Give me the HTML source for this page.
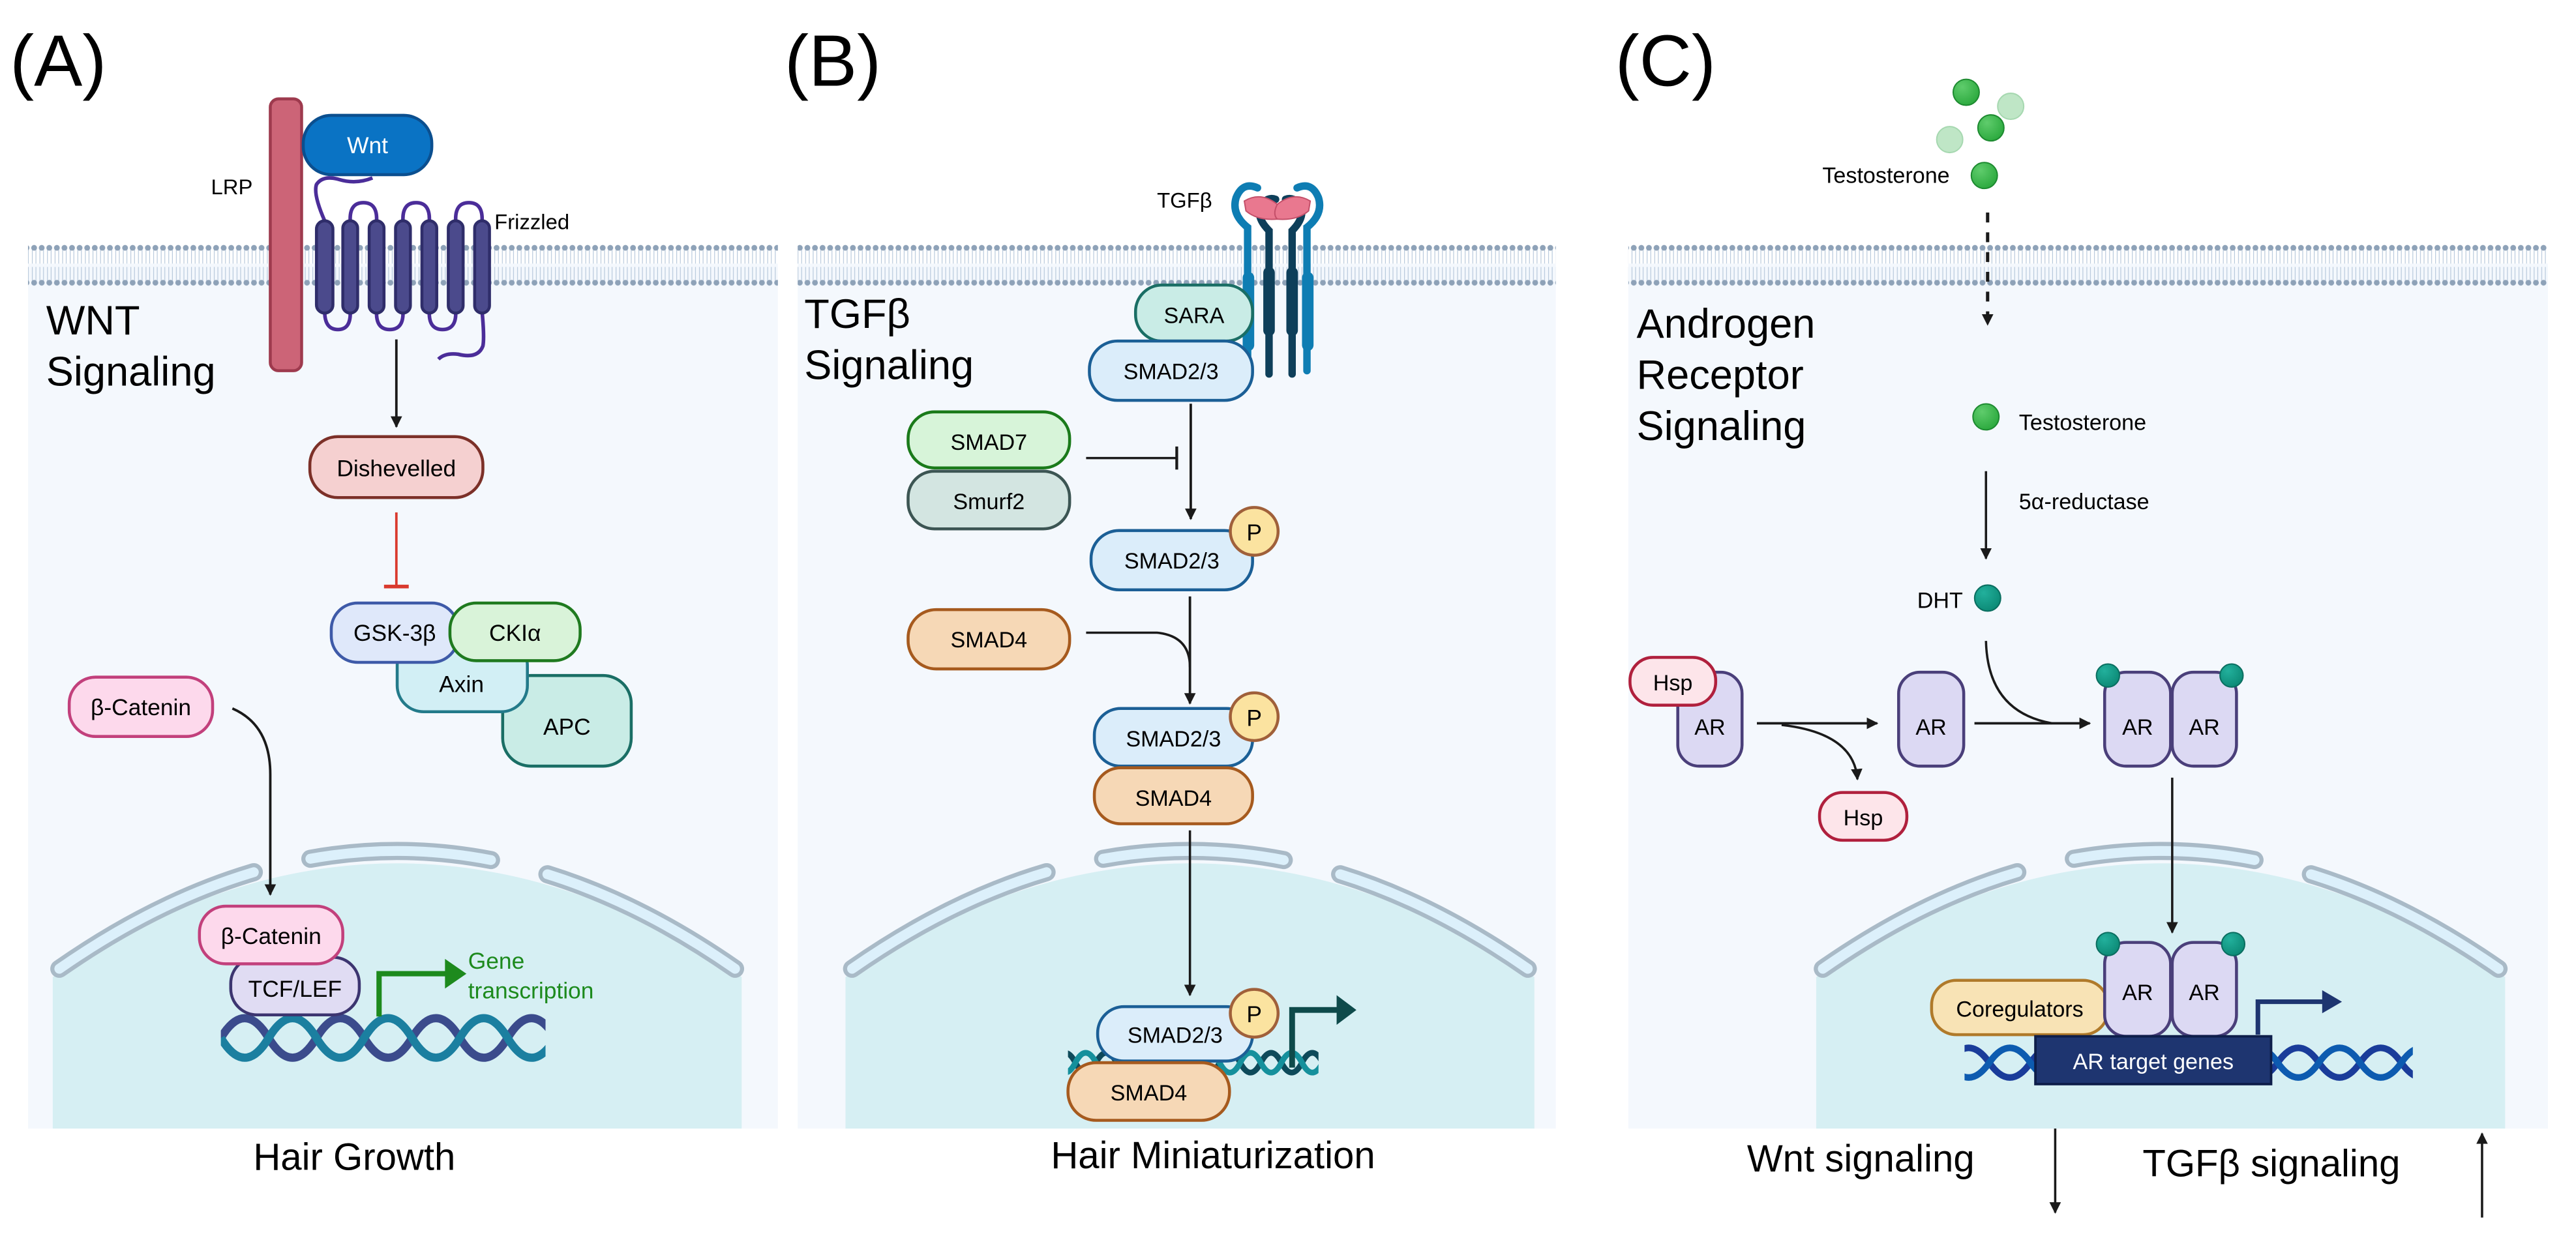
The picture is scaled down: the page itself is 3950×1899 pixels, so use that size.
<!DOCTYPE html>
<html><head><meta charset="utf-8"><style>html,body{margin:0;padding:0;background:#fff}svg{display:block}text{font-family:"Liberation Sans",sans-serif}
rect[rx]{stroke-width:1.8}</style></head><body>
<svg width="3950" height="1899" viewBox="0 0 1563 751.4" xmlns="http://www.w3.org/2000/svg">
<defs>
<pattern id="mem" x="0" y="148" width="4.6" height="26" patternUnits="userSpaceOnUse">
<line x1="1.2" y1="3" x2="1.2" y2="12" stroke="#b4c6da" stroke-width="0.45"/><line x1="3.4" y1="3" x2="3.4" y2="12" stroke="#b4c6da" stroke-width="0.45"/>
<line x1="1.2" y1="14" x2="1.2" y2="23" stroke="#b4c6da" stroke-width="0.45"/><line x1="3.4" y1="14" x2="3.4" y2="23" stroke="#b4c6da" stroke-width="0.45"/>
<circle cx="2.3" cy="2.4" r="1.75" fill="#8ea2b8"/><circle cx="2.3" cy="23.6" r="1.75" fill="#8ea2b8"/>
</pattern>
<marker id="ah" viewBox="0 0 10 10" refX="9" refY="5" markerWidth="7" markerHeight="7" markerUnits="userSpaceOnUse" orient="auto"><path d="M0,0 L10,5 L0,10 Z" fill="#1a1a1a"/></marker>
<radialGradient id="gb" cx="0.35" cy="0.3" r="0.8"><stop offset="0" stop-color="#5fcc6c"/><stop offset="1" stop-color="#27a63a"/></radialGradient>
<radialGradient id="tb" cx="0.35" cy="0.3" r="0.8"><stop offset="0" stop-color="#22b09c"/><stop offset="1" stop-color="#0a8672"/></radialGradient>
</defs>

<rect x="17" y="160" width="455" height="525" fill="#f4f8fd"/>
<rect x="484" y="160" width="460" height="525" fill="#f4f8fd"/>
<rect x="988" y="160" width="558" height="525" fill="#f4f8fd"/>
<rect x="17" y="148" width="455" height="26" fill="url(#mem)"/>
<rect x="484" y="148" width="460" height="26" fill="url(#mem)"/>
<rect x="988" y="148" width="558" height="26" fill="url(#mem)"/>

<path d="M32,685 L32,593 Q241,455 450,593 L450,685 Z" fill="#d6eff3"/>
<path d="M36,588 Q241,445 446,588" fill="none" stroke="#a9bac7" stroke-width="11" stroke-linecap="round" pathLength="100" stroke-dasharray="30 8 25 8 30"/>
<path d="M36,588 Q241,445 446,588" fill="none" stroke="#dcf0fb" stroke-width="6" stroke-linecap="round" pathLength="100" stroke-dasharray="30 8 25 8 30"/>
<path d="M513,685 L513,593 Q722,455 931,593 L931,685 Z" fill="#d6eff3"/>
<path d="M517,588 Q722,445 927,588" fill="none" stroke="#a9bac7" stroke-width="11" stroke-linecap="round" pathLength="100" stroke-dasharray="30 8 25 8 30"/>
<path d="M517,588 Q722,445 927,588" fill="none" stroke="#dcf0fb" stroke-width="6" stroke-linecap="round" pathLength="100" stroke-dasharray="30 8 25 8 30"/>
<path d="M1102,685 L1102,593 Q1311,455 1520,593 L1520,685 Z" fill="#d6eff3"/>
<path d="M1106,588 Q1311,445 1516,588" fill="none" stroke="#a9bac7" stroke-width="11" stroke-linecap="round" pathLength="100" stroke-dasharray="30 8 25 8 30"/>
<path d="M1106,588 Q1311,445 1516,588" fill="none" stroke="#dcf0fb" stroke-width="6" stroke-linecap="round" pathLength="100" stroke-dasharray="30 8 25 8 30"/>

<text x="6" y="52" font-size="44">(A)</text>
<text x="476" y="52" font-size="44">(B)</text>
<text x="980" y="52" font-size="44">(C)</text>

<!-- Panel A -->
<text x="28" y="203" font-size="25">WNT</text>
<text x="28" y="234" font-size="25">Signaling</text>
<rect x="164" y="60" width="19" height="165" rx="5" fill="#cc6477" stroke="#9e3a4e"/>
<text x="128" y="118" font-size="13">LRP</text>
<rect x="184" y="70" width="78" height="36" rx="17" fill="#0a73c4" stroke="#0b4f8f"/>
<text x="223" y="93" font-size="14" fill="#fff" text-anchor="middle">Wnt</text>
<g fill="none" stroke="#4b2d99" stroke-width="2.2">
<path d="M197,134 Q190,118 192,112 Q196,106 206,109 Q216,112 226,108"/>
<path d="M212.5,134 Q212,123 220.5,123 Q229,123 228.5,134"/>
<path d="M244.5,134 Q244,123 252.5,123 Q261,123 260.5,134"/>
<path d="M276.5,134 Q276,123 284.5,123 Q293,123 292.5,134"/>
<path d="M197,189 Q197,200 205,200 Q213,200 212.5,189"/>
<path d="M228.5,189 Q228,200 236.5,200 Q245,200 244.5,189"/>
<path d="M260.5,189 Q260,200 268.5,200 Q277,200 276.5,189"/>
<path d="M292.5,189 Q294,205 293,210 Q290,218 278,215 Q270,214 266,218"/>
</g>
<g fill="#4b4a8c" stroke="#2f2d6a">
<rect x="192" y="134" width="10" height="56" rx="5"/><rect x="208" y="134" width="9" height="56" rx="4.5"/>
<rect x="224" y="134" width="9" height="56" rx="4.5"/><rect x="240" y="134" width="9" height="56" rx="4.5"/>
<rect x="256" y="134" width="9" height="56" rx="4.5"/><rect x="272" y="134" width="9" height="56" rx="4.5"/>
<rect x="288" y="134" width="9" height="56" rx="4.5"/>
</g>
<text x="300" y="139" font-size="13">Frizzled</text>
<line x1="240.5" y1="206" x2="240.5" y2="259" stroke="#1a1a1a" stroke-width="1.5" marker-end="url(#ah)"/>
<rect x="188" y="265" width="105" height="37" rx="17" fill="#f5d0d0" stroke="#7c3028"/>
<text x="240.5" y="289" font-size="14" text-anchor="middle">Dishevelled</text>
<line x1="240.5" y1="311" x2="240.5" y2="356" stroke="#d93a2e" stroke-width="1.5"/>
<line x1="233" y1="356" x2="248" y2="356" stroke="#d93a2e" stroke-width="2.2"/>
<rect x="305" y="410" width="78" height="55" rx="17" fill="#c9ece6" stroke="#1a6e65"/>
<text x="344" y="446" font-size="14" text-anchor="middle">APC</text>
<rect x="241" y="388" width="79" height="44" rx="16" fill="#d2eff5" stroke="#237a8a"/>
<text x="280" y="420" font-size="14" text-anchor="middle">Axin</text>
<rect x="201" y="366" width="77" height="36" rx="16" fill="#dfe8fa" stroke="#3e5aa8"/>
<text x="239.5" y="389" font-size="14" text-anchor="middle">GSK-3β</text>
<rect x="273" y="366" width="79" height="35" rx="16" fill="#d9f3d9" stroke="#1f7a1f"/>
<text x="312.5" y="389" font-size="14" text-anchor="middle">CKIα</text>
<rect x="42" y="411" width="87" height="36" rx="16" fill="#fdd9ec" stroke="#c2407c"/>
<text x="85.5" y="434" font-size="14" text-anchor="middle">β-Catenin</text>
<path d="M141,430 Q164,440 164,470 L164,543" fill="none" stroke="#1a1a1a" stroke-width="1.5" marker-end="url(#ah)"/>
<clipPath id="cA"><rect x="134" y="600" width="197" height="60"/></clipPath>
<g fill="none" stroke-width="5" clip-path="url(#cA)">
<path d="M134,630 Q148.5,606 163,630 T192,630 T221,630 T250,630 T279,630 T308,630 T337,630" stroke="#3b4b8c"/>
<path d="M134,630 Q148.5,654 163,630 T192,630 T221,630 T250,630 T279,630 T308,630 T337,630" stroke="#1b7fa0"/>
</g>
<rect x="140" y="581" width="78" height="35" rx="16" fill="#e0dcf3" stroke="#3c3570"/>
<text x="179" y="605" font-size="14" text-anchor="middle">TCF/LEF</text>
<rect x="121" y="550" width="87" height="35" rx="16" fill="#fdd9ec" stroke="#c2407c"/>
<text x="164.5" y="573" font-size="14" text-anchor="middle">β-Catenin</text>
<path d="M230,617 L230,591 L272,591" fill="none" stroke="#1d8a1d" stroke-width="3.2"/>
<path d="M270,582 L283,591 L270,600 Z" fill="#1d8a1d"/>
<text x="284" y="588" font-size="14" fill="#1d8a1d">Gene</text>
<text x="284" y="606" font-size="14" fill="#1d8a1d">transcription</text>
<text x="215" y="710" font-size="23" text-anchor="middle">Hair Growth</text>

<!-- Panel B -->
<text x="488" y="199" font-size="25">TGFβ</text>
<text x="488" y="230" font-size="25">Signaling</text>
<text x="702" y="126" font-size="13">TGFβ</text>
<g fill="none" stroke-linecap="round">
<path d="M757,225 L757,138 Q747,130 750,120 Q754,110 763,114" stroke="#0e7db3" stroke-width="4.5"/>
<path d="M793,225 L793,138 Q803,130 800,120 Q796,110 787,114" stroke="#0e7db3" stroke-width="4.5"/>
<path d="M770,227 L770,140 Q762,132 765,125 Q769,119 774,121" stroke="#0e3f5a" stroke-width="4.5"/>
<path d="M784,227 L784,140 Q792,132 789,125 Q785,119 780,121" stroke="#0e3f5a" stroke-width="4.5"/>
</g>
<rect x="754" y="165" width="7" height="48" rx="3.5" fill="#0e7db3" stroke="none"/>
<rect x="790" y="165" width="7" height="48" rx="3.5" fill="#0e7db3" stroke="none"/>
<rect x="766.5" y="162" width="7" height="42" rx="3.5" fill="#0e3f5a" stroke="none"/>
<rect x="780.5" y="162" width="7" height="42" rx="3.5" fill="#0e3f5a" stroke="none"/>
<path d="M755,122 Q765,116 775,124 Q778,130 775,133 Q763,134 756,128 Z" fill="#e9788f" stroke="#c4506a" stroke-width="0.8"/>
<path d="M795,122 Q785,116 775,124 Q772,130 775,133 Q787,134 794,128 Z" fill="#e9788f" stroke="#c4506a" stroke-width="0.8"/>
<rect x="689" y="173" width="71" height="34" rx="16" fill="#c9ece6" stroke="#1a6e65"/>
<text x="724.5" y="196" font-size="13.5" text-anchor="middle">SARA</text>
<rect x="661" y="207" width="99" height="36" rx="17" fill="#dbedfa" stroke="#1b5f96"/>
<text x="710.5" y="230" font-size="13.5" text-anchor="middle">SMAD2/3</text>
<line x1="722.5" y1="245" x2="722.5" y2="315" stroke="#1a1a1a" stroke-width="1.5" marker-end="url(#ah)"/>
<rect x="551" y="250" width="98" height="34" rx="16" fill="#d7f4d9" stroke="#1a7a1a"/>
<text x="600" y="273" font-size="13.5" text-anchor="middle">SMAD7</text>
<rect x="551" y="286" width="98" height="35" rx="16" fill="#d3e5e1" stroke="#3c5553"/>
<text x="600" y="309" font-size="13.5" text-anchor="middle">Smurf2</text>
<line x1="659" y1="278" x2="714" y2="278" stroke="#1a1a1a" stroke-width="1.4"/>
<line x1="714" y1="271" x2="714" y2="285" stroke="#1a1a1a" stroke-width="1.7"/>
<rect x="662" y="322" width="98" height="36" rx="17" fill="#dbedfa" stroke="#1b5f96"/>
<text x="711" y="345" font-size="13.5" text-anchor="middle">SMAD2/3</text>
<circle cx="761" cy="322.5" r="14.5" fill="#fbe3a0" stroke="#a0603a" stroke-width="1.8"/>
<text x="761" y="328" font-size="14" text-anchor="middle">P</text>
<line x1="722" y1="362" x2="722" y2="427" stroke="#1a1a1a" stroke-width="1.5" marker-end="url(#ah)"/>
<rect x="551" y="370" width="98" height="36" rx="17" fill="#f6d8b6" stroke="#a65a1e"/>
<text x="600" y="393" font-size="13.5" text-anchor="middle">SMAD4</text>
<path d="M659,384 L702,384 Q722,386 722,405" fill="none" stroke="#1a1a1a" stroke-width="1.4"/>
<rect x="664" y="430" width="96" height="35" rx="16" fill="#dbedfa" stroke="#1b5f96"/>
<text x="712" y="453" font-size="13.5" text-anchor="middle">SMAD2/3</text>
<circle cx="761" cy="435" r="14.5" fill="#fbe3a0" stroke="#a0603a" stroke-width="1.8"/>
<text x="761" y="440.5" font-size="14" text-anchor="middle">P</text>
<rect x="664" y="466" width="96" height="34" rx="16" fill="#f6d8b6" stroke="#a65a1e"/>
<text x="712" y="489" font-size="13.5" text-anchor="middle">SMAD4</text>
<line x1="722" y1="504" x2="722" y2="604" stroke="#1a1a1a" stroke-width="1.4" marker-end="url(#ah)"/>
<clipPath id="cB"><rect x="648" y="630" width="152" height="30"/></clipPath>
<g fill="none" stroke-width="3.5" clip-path="url(#cB)">
<path d="M640,645 Q646.25,633 652.5,645 T665,645 T677.5,645 T690,645 T702.5,645 T715,645 T727.5,645 T740,645 T752.5,645 T765,645 T777.5,645 T790,645 T802.5,645" stroke="#0e4a5a"/>
<path d="M640,645 Q646.25,657 652.5,645 T665,645 T677.5,645 T690,645 T702.5,645 T715,645 T727.5,645 T740,645 T752.5,645 T765,645 T777.5,645 T790,645 T802.5,645" stroke="#15909c"/>
</g>
<path d="M784,648 L784,613 L813,613" fill="none" stroke="#0e4a4a" stroke-width="3.5"/>
<path d="M811,604 L823,613 L811,622 Z" fill="#0e4a4a"/>
<rect x="666" y="611" width="94" height="33" rx="16" fill="#dbedfa" stroke="#1b5f96"/>
<text x="713" y="633" font-size="13.5" text-anchor="middle">SMAD2/3</text>
<circle cx="761" cy="615" r="14.5" fill="#fbe3a0" stroke="#a0603a" stroke-width="1.8"/>
<text x="761" y="620.5" font-size="14" text-anchor="middle">P</text>
<rect x="648" y="645" width="98" height="35" rx="17" fill="#f6d8b6" stroke="#a65a1e"/>
<text x="697" y="668" font-size="13.5" text-anchor="middle">SMAD4</text>
<text x="736" y="709" font-size="23" text-anchor="middle">Hair Miniaturization</text>

<!-- Panel C -->
<circle cx="1193" cy="56" r="7.9" fill="url(#gb)" stroke="#1d8a30" stroke-width="0.8"/>
<circle cx="1220" cy="64.5" r="7.9" fill="#bfe6c6" stroke="#a6d8b0" stroke-width="0.8"/>
<circle cx="1208" cy="77.6" r="7.9" fill="url(#gb)" stroke="#1d8a30" stroke-width="0.8"/>
<circle cx="1183" cy="84.7" r="7.9" fill="#bfe6c6" stroke="#a6d8b0" stroke-width="0.8"/>
<circle cx="1204" cy="106.5" r="7.9" fill="url(#gb)" stroke="#1d8a30" stroke-width="0.8"/>
<text x="1183" y="111" font-size="13.5" text-anchor="end">Testosterone</text>
<line x1="1206" y1="129" x2="1206" y2="197" stroke="#1a1a1a" stroke-width="2" stroke-dasharray="6 6" marker-end="url(#ah)"/>
<text x="993" y="205" font-size="25">Androgen</text>
<text x="993" y="236" font-size="25">Receptor</text>
<text x="993" y="267" font-size="25">Signaling</text>
<circle cx="1205" cy="253" r="7.9" fill="url(#gb)" stroke="#1d8a30" stroke-width="0.8"/>
<text x="1225" y="261" font-size="13.5">Testosterone</text>
<line x1="1205" y1="286" x2="1205" y2="339" stroke="#1a1a1a" stroke-width="1.4" marker-end="url(#ah)"/>
<text x="1225" y="309" font-size="13.5">5α-reductase</text>
<text x="1191" y="369" font-size="13.5" text-anchor="end">DHT</text>
<circle cx="1206" cy="363" r="7.9" fill="url(#tb)" stroke="#0a6e60" stroke-width="0.8"/>
<path d="M1205,389 Q1206,432 1245,439" fill="none" stroke="#1a1a1a" stroke-width="1.4"/>
<rect x="1018" y="408" width="39" height="57" rx="13" fill="#dcd9f3" stroke="#4a3f7a"/>
<text x="1037.5" y="446" font-size="13.5" text-anchor="middle">AR</text>
<rect x="989" y="399" width="52" height="29" rx="14" fill="#fde5ea" stroke="#b0203d"/>
<text x="1015" y="419" font-size="13.5" text-anchor="middle">Hsp</text>
<line x1="1066" y1="439" x2="1139" y2="439" stroke="#1a1a1a" stroke-width="1.5" marker-end="url(#ah)"/>
<path d="M1081,440 Q1125,445 1127,473" fill="none" stroke="#1a1a1a" stroke-width="1.4" marker-end="url(#ah)"/>
<rect x="1104" y="481" width="53" height="29" rx="14" fill="#fde5ea" stroke="#b0203d"/>
<text x="1130.5" y="501" font-size="13.5" text-anchor="middle">Hsp</text>
<rect x="1152" y="408" width="39.5" height="57" rx="13" fill="#dcd9f3" stroke="#4a3f7a"/>
<text x="1171.7" y="446" font-size="13.5" text-anchor="middle">AR</text>
<line x1="1198" y1="439" x2="1268" y2="439" stroke="#1a1a1a" stroke-width="1.5" marker-end="url(#ah)"/>
<rect x="1277" y="408" width="40" height="57" rx="13" fill="#dcd9f3" stroke="#4a3f7a"/>
<rect x="1318" y="408" width="39" height="57" rx="13" fill="#dcd9f3" stroke="#4a3f7a"/>
<text x="1297" y="446" font-size="13.5" text-anchor="middle">AR</text>
<text x="1337.5" y="446" font-size="13.5" text-anchor="middle">AR</text>
<circle cx="1279" cy="410" r="7" fill="url(#tb)" stroke="#0a6e60" stroke-width="0.8"/>
<circle cx="1354" cy="410" r="7" fill="url(#tb)" stroke="#0a6e60" stroke-width="0.8"/>
<line x1="1318" y1="472" x2="1318" y2="566" stroke="#1a1a1a" stroke-width="1.4" marker-end="url(#ah)"/>
<clipPath id="cC"><rect x="1192" y="630" width="272" height="30"/></clipPath>
<g fill="none" stroke-width="4" clip-path="url(#cC)">
<path d="M1182,645 Q1194.5,627 1207,645 T1232,645 T1257,645 T1282,645 T1307,645 T1332,645 T1357,645 T1382,645 T1407,645 T1432,645 T1457,645 T1482,645" stroke="#1a3c9a"/>
<path d="M1182,645 Q1194.5,663 1207,645 T1232,645 T1257,645 T1282,645 T1307,645 T1332,645 T1357,645 T1382,645 T1407,645 T1432,645 T1457,645 T1482,645" stroke="#0d5bb0"/>
</g>
<path d="M1370,628 L1370,608 L1410,608" fill="none" stroke="#1e3570" stroke-width="2.8"/>
<path d="M1409,601 L1421,608 L1409,615 Z" fill="#1e3570"/>
<rect x="1172" y="595" width="107" height="33" rx="15" fill="#f8e3b5" stroke="#b07a2a"/>
<text x="1225.5" y="617" font-size="13.5" text-anchor="middle">Coregulators</text>
<rect x="1277" y="572" width="40" height="57" rx="13" fill="#dcd9f3" stroke="#4a3f7a"/>
<rect x="1318" y="572" width="39" height="57" rx="13" fill="#dcd9f3" stroke="#4a3f7a"/>
<text x="1297" y="607" font-size="13.5" text-anchor="middle">AR</text>
<text x="1337.5" y="607" font-size="13.5" text-anchor="middle">AR</text>
<circle cx="1279" cy="573" r="7" fill="url(#tb)" stroke="#0a6e60" stroke-width="0.8"/>
<circle cx="1355" cy="573" r="7" fill="url(#tb)" stroke="#0a6e60" stroke-width="0.8"/>
<rect x="1235" y="629" width="143" height="29" fill="#1e3570" stroke="#0e1e4a" stroke-width="1.5"/>
<text x="1306.5" y="649" font-size="13.5" fill="#fff" text-anchor="middle">AR target genes</text>
<text x="1060" y="711" font-size="23">Wnt signaling</text>
<line x1="1247" y1="685" x2="1247" y2="736" stroke="#1a1a1a" stroke-width="1.4" marker-end="url(#ah)"/>
<text x="1300" y="714" font-size="23">TGFβ signaling</text>
<line x1="1506" y1="739" x2="1506" y2="688" stroke="#1a1a1a" stroke-width="1.4" marker-end="url(#ah)"/>
</svg>
</body></html>
